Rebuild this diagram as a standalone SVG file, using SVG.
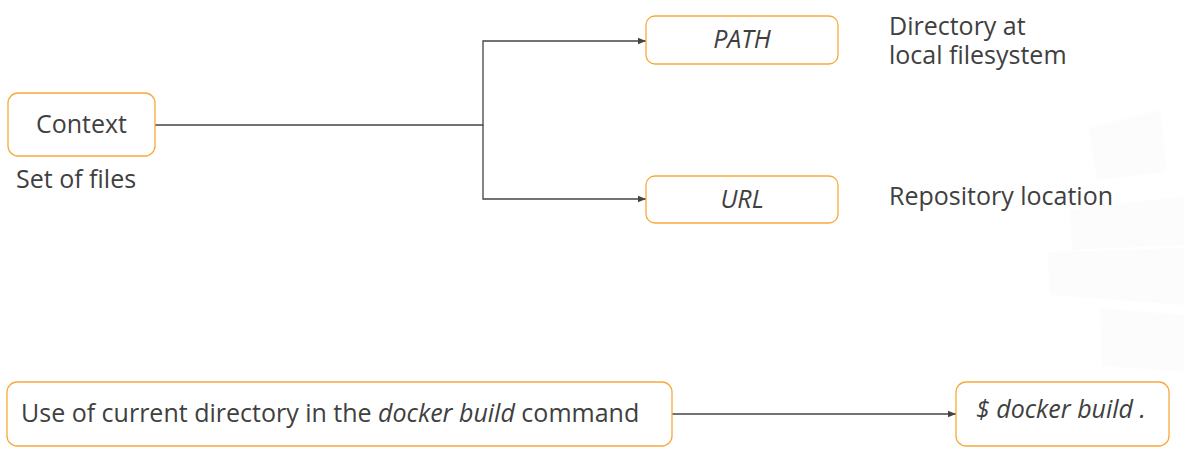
<svg xmlns="http://www.w3.org/2000/svg" width="1184" height="459" viewBox="0 0 1184 459">
<style>
.box{fill:#fff;stroke:#f7a93b;stroke-width:1.3}
.t{font-family:"Open Sans","Noto Sans","Liberation Sans",sans-serif;fill:#404040;font-size:25px}
.i{font-style:italic}
.c{fill:none;stroke:#444;stroke-width:1.3}
.wm{fill:#fcfcfc}
</style>
<defs>
<marker id="ar" viewBox="0 0 10 10" refX="10" refY="5" markerWidth="8" markerHeight="8" markerUnits="userSpaceOnUse" orient="auto">
<path d="M0,1 L10,5 L0,9 Z" fill="#444"/>
</marker>
</defs>
<rect width="1184" height="459" fill="#fff"/>
<g id="watermark">
<polygon class="wm" points="1088,128 1160,110 1167,172 1097,180"/>
<polygon class="wm" points="1070,210 1184,196 1184,245 1072,250"/>
<polygon class="wm" points="1047,252 1184,248 1184,305 1050,295"/>
<polygon class="wm" points="1100,308 1184,315 1184,372 1102,366"/>
</g>
<g id="connectors">
<path class="c" d="M155,125 H483 V41 H646" marker-end="url(#ar)"/>
<path class="c" d="M483,125 V199 H646" marker-end="url(#ar)"/>
<path class="c" d="M672,414 H956" marker-end="url(#ar)"/>
</g>
<g id="context">
<rect class="box" x="8" y="93" width="147" height="63" rx="10"/>
<text class="t" x="81.5" y="133" text-anchor="middle">Context</text>
<text class="t" x="16" y="188">Set of files</text>
</g>
<g id="path">
<rect class="box" x="646" y="16" width="192" height="48" rx="9"/>
<text class="t i" x="742" y="48" text-anchor="middle" font-size="23.5">PATH</text>
<text class="t"><tspan x="889" y="35">Directory at</tspan><tspan x="889" y="64">local filesystem</tspan></text>
</g>
<g id="url">
<rect class="box" x="646" y="176" width="192" height="47" rx="9"/>
<text class="t i" x="742" y="208" text-anchor="middle" font-size="23.5">URL</text>
<text class="t" x="889" y="205">Repository location</text>
</g>
<g id="usage">
<rect class="box" x="7" y="382" width="665" height="64" rx="10"/>
<text class="t" x="21" y="422">Use of current directory in the <tspan class="i">docker build</tspan> command</text>
</g>
<g id="docker">
<rect class="box" x="956" y="382" width="213" height="64" rx="10"/>
<text class="t i" x="976" y="418">$ docker build .</text>
</g>
</svg>
